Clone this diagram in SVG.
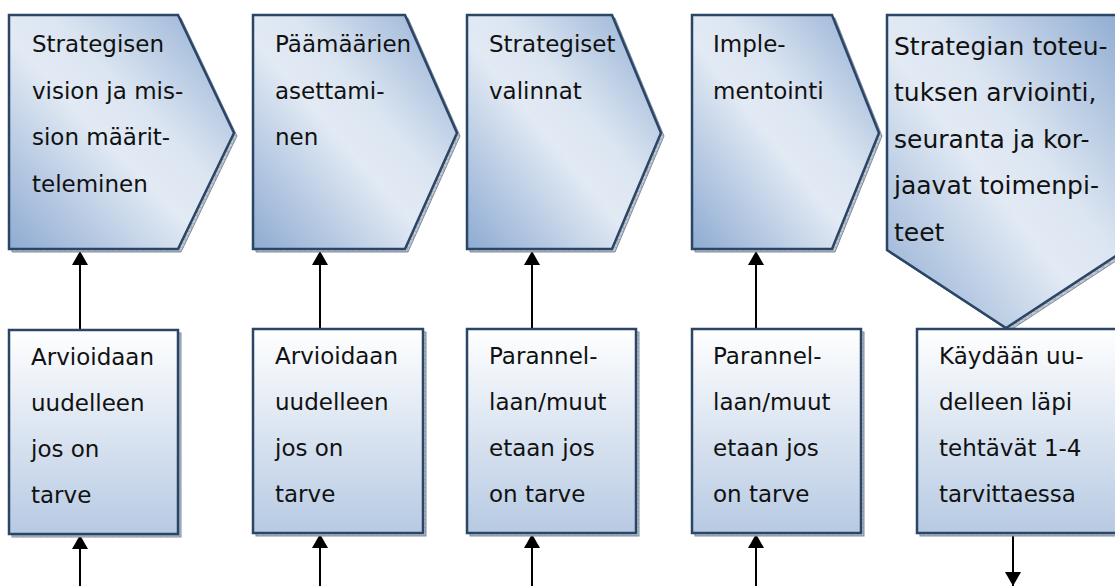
<svg xmlns="http://www.w3.org/2000/svg" width="1115" height="586" viewBox="0 0 1115 586">
  <defs>
    <linearGradient id="gPent" x1="0" y1="1" x2="1" y2="0">
      <stop offset="0" stop-color="#8eabd2"/>
      <stop offset="0.45" stop-color="#e2eaf4"/>
      <stop offset="0.6" stop-color="#dbe5f1"/>
      <stop offset="1" stop-color="#8eabd2"/>
    </linearGradient>
    <linearGradient id="gBox" x1="0" y1="0" x2="0" y2="1">
      <stop offset="0" stop-color="#ffffff"/>
      <stop offset="1" stop-color="#b7cae3"/>
    </linearGradient>
    <pattern id="shadowPat" width="6" height="4" patternUnits="userSpaceOnUse">
      <rect width="6" height="4" fill="#a7afba"/>
      <rect width="5" height="3" fill="#c3c8cf"/>
    </pattern>
    <marker id="arrow" viewBox="0 0 14 16" refX="14" refY="8" markerWidth="14" markerHeight="16" markerUnits="userSpaceOnUse" orient="auto">
      <path d="M0,0 L14,8 L0,16 z" fill="#000"/>
    </marker>
  </defs>
  <style>
    .shadow { fill: url(#shadowPat); stroke: #7f8ea3; stroke-width: 1; }
    .pent { fill: url(#gPent); stroke: #2a4566; stroke-width: 2.5; stroke-linejoin: miter; }
    .box { fill: url(#gBox); stroke: #2a4566; stroke-width: 2.5; }
    .lbl { font-family: "DejaVu Sans", "Liberation Sans", sans-serif; font-size: 23px; fill: #111; }
    .big { font-size: 25px; }
    .conn { stroke: #000; stroke-width: 2; fill: none; marker-end: url(#arrow); }
  </style>

  <g id="connectors">
    <line class="conn" x1="80" y1="330" x2="80" y2="251"/>
    <line class="conn" x1="320" y1="329" x2="320" y2="251"/>
    <line class="conn" x1="532" y1="329" x2="532" y2="251"/>
    <line class="conn" x1="756" y1="329" x2="756" y2="251"/>
    <line class="conn" x1="80" y1="586" x2="80" y2="535"/>
    <line class="conn" x1="320" y1="586" x2="320" y2="534"/>
    <line class="conn" x1="532" y1="586" x2="532" y2="534"/>
    <line class="conn" x1="756" y1="586" x2="756" y2="534"/>
    <line class="conn" x1="1013" y1="534" x2="1013" y2="586"/>
  </g>

  <g id="step1">
    <polygon class="shadow" points="12,18 181,18 237,136 181,252 12,252"/>
    <polygon class="pent" points="9,15 178,15 234,133 178,249 9,249"/>
    <text class="lbl" x="32" y="52">Strategisen</text>
    <text class="lbl" x="32" y="98.5">vision ja mis-</text>
    <text class="lbl" x="32" y="145">sion määrit-</text>
    <text class="lbl" x="32" y="191.5">teleminen</text>
  </g>

  <g id="step2">
    <polygon class="shadow" points="256,18 408,18 460,136 408,252 256,252"/>
    <polygon class="pent" points="253,15 405,15 457,133 405,249 253,249"/>
    <text class="lbl" x="275" y="52">Päämäärien</text>
    <text class="lbl" x="275" y="98.5">asettami-</text>
    <text class="lbl" x="275" y="145">nen</text>
  </g>

  <g id="step3">
    <polygon class="shadow" points="470,18 615,18 664,136 615,252 470,252"/>
    <polygon class="pent" points="467,15 612,15 661,133 612,249 467,249"/>
    <text class="lbl" x="489" y="52">Strategiset</text>
    <text class="lbl" x="489" y="98.5">valinnat</text>
  </g>

  <g id="step4">
    <polygon class="shadow" points="695,18 835,18 882,136 835,252 695,252"/>
    <polygon class="pent" points="692,15 832,15 879,133 832,249 692,249"/>
    <text class="lbl" x="713" y="52">Imple-</text>
    <text class="lbl" x="713" y="98.5">mentointi</text>
  </g>

  <g id="step5">
    <polygon class="shadow" points="890,18 1128,18 1128,253 1009,331 890,253"/>
    <polygon class="pent" points="887,15 1125,15 1125,250 1006,328 887,250"/>
    <text class="lbl big" x="894" y="55">Strategian toteu-</text>
    <text class="lbl big" x="894" y="101">tuksen arviointi,</text>
    <text class="lbl big" x="894" y="147.5">seuranta ja kor-</text>
    <text class="lbl big" x="894" y="194">jaavat toimenpi-</text>
    <text class="lbl big" x="894" y="241">teet</text>
  </g>

  <g id="review1">
    <rect class="shadow" x="12" y="333" width="169" height="204"/>
    <rect class="box" x="9" y="330" width="169" height="204"/>
    <text class="lbl" x="31" y="365">Arvioidaan</text>
    <text class="lbl" x="31" y="411">uudelleen</text>
    <text class="lbl" x="31" y="457">jos on</text>
    <text class="lbl" x="31" y="503">tarve</text>
  </g>

  <g id="review2">
    <rect class="shadow" x="256" y="332" width="170" height="204"/>
    <rect class="box" x="253" y="329" width="170" height="204"/>
    <text class="lbl" x="275" y="364">Arvioidaan</text>
    <text class="lbl" x="275" y="410">uudelleen</text>
    <text class="lbl" x="275" y="456">jos on</text>
    <text class="lbl" x="275" y="502">tarve</text>
  </g>

  <g id="review3">
    <rect class="shadow" x="470" y="332" width="169" height="204"/>
    <rect class="box" x="467" y="329" width="169" height="204"/>
    <text class="lbl" x="489" y="364">Parannel-</text>
    <text class="lbl" x="489" y="410">laan/muut</text>
    <text class="lbl" x="489" y="456">etaan jos</text>
    <text class="lbl" x="489" y="502">on tarve</text>
  </g>

  <g id="review4">
    <rect class="shadow" x="695" y="332" width="169" height="204"/>
    <rect class="box" x="692" y="329" width="169" height="204"/>
    <text class="lbl" x="713" y="364">Parannel-</text>
    <text class="lbl" x="713" y="410">laan/muut</text>
    <text class="lbl" x="713" y="456">etaan jos</text>
    <text class="lbl" x="713" y="502">on tarve</text>
  </g>

  <g id="review5">
    <rect class="shadow" x="920" y="332" width="210" height="204"/>
    <rect class="box" x="917" y="329" width="210" height="204"/>
    <text class="lbl" x="939" y="364">Käydään uu-</text>
    <text class="lbl" x="939" y="410">delleen läpi</text>
    <text class="lbl" x="939" y="456">tehtävät 1-4</text>
    <text class="lbl" x="939" y="502">tarvittaessa</text>
  </g>
</svg>
